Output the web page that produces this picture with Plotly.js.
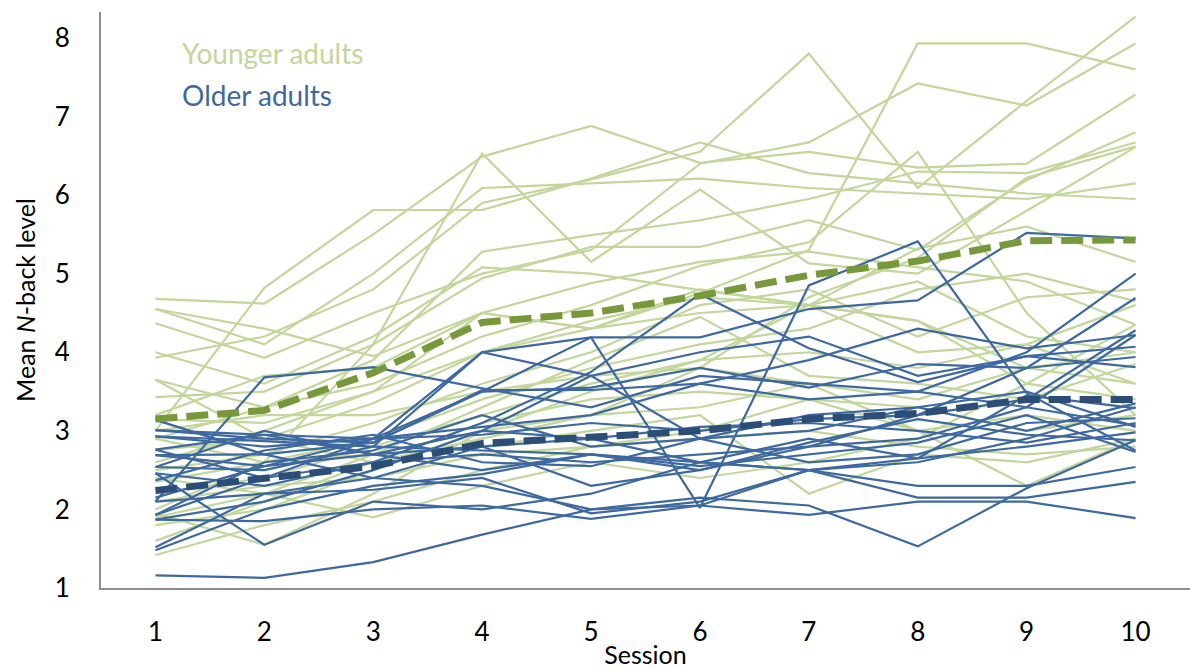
<!DOCTYPE html>
<html>
<head>
<meta charset="utf-8">
<script src="https://cdn.plot.ly/plotly-3.0.1.min.js"></script>
<style>html,body{margin:0;padding:0;background:#fff;}#chart{width:1190px;height:670px;}</style>
</head>
<body>
<div id="chart"></div>
<script>
const sessions = [1,2,3,4,5,6,7,8,9,10];

const younger = [
  [3.93, 4.20, 4.80, 5.90, 6.20, 6.55, 7.80, 6.09, 7.20, 8.27],
  [2.60, 3.00, 3.50, 4.00, 4.30, 4.75, 5.30, 7.93, 7.93, 7.60],
  [4.37, 3.93, 4.50, 5.00, 5.30, 6.40, 6.67, 7.42, 7.14, 7.93],
  [2.90, 3.30, 3.60, 4.20, 4.60, 5.10, 5.40, 6.55, 4.50, 3.20],
  [2.00, 2.60, 4.10, 6.53, 5.15, 6.07, 5.13, 5.00, 5.80, 6.61],
  [4.68, 4.62, 5.50, 6.49, 6.88, 6.41, 6.55, 6.35, 6.40, 7.28],
  [3.00, 4.82, 5.81, 5.81, 6.21, 6.67, 6.28, 6.15, 6.02, 5.95],
  [4.55, 4.10, 5.00, 6.09, 6.15, 6.21, 6.09, 6.02, 5.95, 6.15],
  [3.65, 3.30, 3.90, 5.28, 5.49, 5.68, 5.95, 6.30, 6.28, 6.67],
  [3.43, 3.50, 4.10, 4.94, 5.34, 5.34, 5.68, 5.30, 6.19, 6.80],
  [4.00, 3.60, 4.20, 5.08, 5.00, 4.79, 4.60, 5.32, 5.60, 5.15],
  [3.15, 3.10, 3.50, 4.50, 4.88, 5.15, 5.28, 5.08, 4.90, 4.35],
  [2.75, 2.90, 3.35, 4.00, 4.40, 4.70, 4.60, 4.90, 4.20, 4.00],
  [2.50, 2.70, 3.10, 3.60, 4.00, 4.60, 4.80, 4.20, 4.70, 4.80],
  [2.35, 2.60, 2.90, 3.40, 3.80, 4.10, 4.30, 4.80, 5.00, 4.65],
  [2.20, 2.40, 2.80, 3.20, 3.60, 3.90, 4.00, 3.80, 4.10, 3.60],
  [1.90, 2.20, 2.70, 3.30, 3.90, 4.45, 3.70, 3.60, 3.40, 3.85],
  [1.80, 2.00, 2.50, 3.00, 3.50, 3.90, 4.60, 4.40, 3.60, 3.40],
  [1.60, 2.10, 2.60, 2.90, 3.20, 3.30, 3.60, 3.00, 2.30, 2.90],
  [1.42, 1.80, 2.10, 2.50, 2.80, 3.00, 3.40, 3.00, 3.20, 3.00],
  [2.90, 2.60, 2.70, 2.80, 3.00, 3.20, 2.20, 2.70, 2.60, 2.90],
  [3.65, 2.90, 2.60, 3.10, 3.40, 3.50, 3.40, 3.30, 3.00, 3.20],
  [2.40, 2.20, 1.90, 2.30, 2.60, 2.40, 2.60, 2.90, 3.60, 4.35],
  [3.00, 3.20, 3.20, 3.50, 3.70, 3.80, 3.60, 3.40, 3.80, 3.60],
  [2.10, 2.30, 2.40, 2.70, 2.80, 2.90, 3.00, 2.80, 2.70, 2.80],
  [4.55, 4.30, 3.95, 4.50, 4.30, 4.80, 4.60, 4.00, 4.10, 4.60],
  [1.95, 1.55, 2.20, 3.00, 3.20, 3.80, 4.70, 5.20, 6.22, 6.62],
  [3.20, 3.70, 3.80, 4.50, 4.30, 4.50, 4.60, 4.40, 3.80, 4.00]
];

const older = [
  [1.16, 1.13, 1.33, 1.68, 2.00, 2.05, 1.93, 2.10, 2.10, 1.89],
  [2.46, 2.30, 2.60, 3.10, 3.75, 4.74, 4.05, 3.62, 3.95, 4.07],
  [2.69, 2.55, 2.90, 3.50, 4.19, 2.02, 4.85, 5.41, 3.48, 2.75],
  [1.93, 2.40, 2.90, 4.00, 4.19, 4.19, 4.55, 4.66, 5.52, 5.45],
  [2.10, 3.68, 3.81, 3.54, 3.30, 3.70, 3.60, 3.50, 4.00, 5.00],
  [3.01, 2.90, 2.85, 3.50, 3.55, 3.80, 3.55, 3.85, 3.80, 3.94],
  [2.93, 2.80, 2.90, 3.05, 3.20, 3.60, 3.40, 3.50, 3.30, 4.22],
  [2.76, 2.95, 2.90, 2.95, 3.10, 3.00, 3.15, 3.20, 3.40, 4.28],
  [2.54, 3.00, 2.70, 2.80, 2.90, 2.60, 2.90, 2.65, 3.45, 3.29],
  [1.87, 2.10, 2.50, 3.00, 3.70, 2.90, 2.60, 2.70, 3.10, 3.16],
  [1.52, 2.20, 2.40, 2.80, 2.30, 2.50, 2.80, 2.90, 3.30, 3.07],
  [1.48, 2.00, 2.30, 2.45, 2.70, 2.60, 2.50, 2.65, 2.80, 2.98],
  [2.15, 2.55, 2.70, 2.50, 2.70, 2.50, 2.85, 3.15, 2.95, 2.88],
  [2.10, 2.20, 2.25, 2.40, 1.95, 2.10, 2.50, 2.30, 2.30, 2.54],
  [3.14, 2.70, 2.40, 2.30, 2.00, 2.15, 2.05, 1.53, 2.27, 2.88],
  [2.46, 1.55, 2.10, 2.00, 2.20, 2.60, 2.50, 2.15, 2.15, 2.35],
  [1.87, 1.85, 2.00, 2.05, 1.88, 2.05, 2.50, 2.60, 2.90, 3.30],
  [2.93, 2.87, 2.80, 2.75, 2.70, 2.55, 2.70, 2.85, 3.20, 2.73],
  [2.69, 2.70, 2.85, 3.52, 3.52, 3.60, 3.90, 4.30, 4.05, 4.22],
  [2.54, 2.50, 2.80, 4.00, 3.70, 4.00, 4.20, 3.70, 3.95, 3.81],
  [1.93, 2.60, 2.75, 3.20, 2.80, 2.90, 3.20, 3.30, 3.00, 3.35],
  [3.01, 2.95, 2.70, 3.00, 2.90, 3.05, 3.10, 3.00, 2.85, 3.10],
  [2.76, 2.40, 2.60, 2.70, 2.60, 2.70, 2.80, 3.20, 3.80, 4.69],
  [2.37, 2.75, 2.95, 2.60, 2.55, 2.90, 3.00, 3.30, 3.50, 3.05]
];

const youngerMean = [3.15, 3.26, 3.74, 4.38, 4.50, 4.72, 4.98, 5.16, 5.42, 5.43];
const olderMean   = [2.24, 2.40, 2.55, 2.84, 2.93, 3.00, 3.15, 3.22, 3.40, 3.40];

const groupLabels = ["Younger adults", "Older adults"];
const tickLabels = ["1","2","3","4","5","6","7","8","9","10"];

const colYoung = "#c3d69b";
const colOld = "#3e69a0";
const colYoungMean = "#77993c";
const colOldMean = "#2c4d75";
const FONT = "Lato, 'Open Sans', sans-serif";

const traces = [];
younger.forEach(function(v){
  traces.push({x: sessions, y: v, type: "scatter", mode: "lines",
    line: {color: colYoung, width: 2.2}, hoverinfo: "y", showlegend: false});
});
older.forEach(function(v){
  traces.push({x: sessions, y: v, type: "scatter", mode: "lines",
    line: {color: colOld, width: 2.2}, hoverinfo: "y", showlegend: false});
});
traces.push({x: sessions, y: youngerMean, type: "scatter", mode: "lines",
  line: {color: colYoungMean, width: 7, dash: "22px,9px"}, showlegend: false});
traces.push({x: sessions, y: olderMean, type: "scatter", mode: "lines",
  line: {color: colOldMean, width: 7, dash: "22px,9px"}, showlegend: false});

const layout = {
  width: 1190, height: 670,
  margin: {l: 101, r: 0, t: 12, b: 82},
  paper_bgcolor: "#ffffff", plot_bgcolor: "#ffffff",
  font: {family: FONT, size: 26, color: "#000"},
  showlegend: false,
  xaxis: {
    range: [0.5, 10.5], tickvals: sessions, ticktext: tickLabels,
    showgrid: false, zeroline: false, showline: true, linecolor: "#8c8c8c", linewidth: 2,
    ticks: "", ticklabelstandoff: 20,
    tickfont: {family: FONT, size: 26, color: "#000"},
    title: {text: "Session", font: {family: FONT, size: 25, color: "#000"}, standoff: 0},
    automargin: false
  },
  yaxis: {
    range: [1, 8.33], tickvals: [1,2,3,4,5,6,7,8],
    showgrid: false, zeroline: false, showline: true, linecolor: "#8c8c8c", linewidth: 2,
    ticks: "", ticklabelstandoff: 24,
    tickfont: {family: FONT, size: 26, color: "#000"},
    title: {text: "Mean <i>N</i>-back level", font: {family: FONT, size: 25, color: "#000"}, standoff: 12},
    automargin: false
  },
  annotations: [
    {xref: "paper", yref: "paper", x: 0.0725, y: 0.929, xanchor: "left", yanchor: "middle",
     text: groupLabels[0], showarrow: false, font: {family: FONT, size: 28, color: colYoung}},
    {xref: "paper", yref: "paper", x: 0.0725, y: 0.856, xanchor: "left", yanchor: "middle",
     text: groupLabels[1], showarrow: false, font: {family: FONT, size: 28, color: colOld}}
  ]
};

Plotly.newPlot("chart", traces, layout, {displayModeBar: false, responsive: false});
</script>
</body>
</html>
